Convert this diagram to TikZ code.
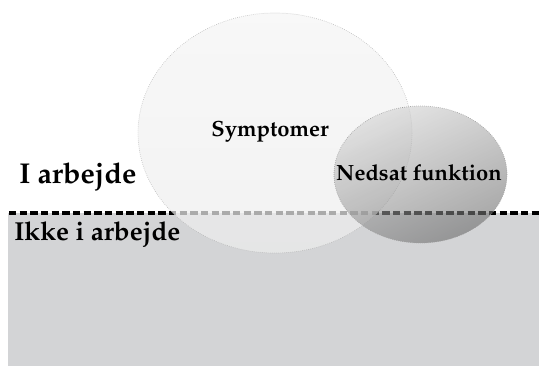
\documentclass[tikz,border=0pt]{standalone}
\usepackage[T1]{fontenc}
\usepackage{mathpazo}
\usetikzlibrary{positioning, shapes}
\begin{document}
\begin{tikzpicture}[x=0.75pt, y=-0.75pt, line width=0.5pt,
	zone/.style={font=\bfseries\fontsize{19.5}{22}\selectfont, inner sep=0pt, anchor=west},
	lbl/.style={font=\bfseries\fontsize{16.5}{18}\selectfont, inner sep=0pt}]

	\useasboundingbox (0,0) rectangle (539,366);
	% ground and border line
	\fill[fill={rgb,255:red,211;green,212;blue,214}] (8,213) rectangle (539,366);
	\draw[black, line width=2.4pt, dash pattern=on 5.5pt off 2.5pt] (9,213) -- (539,213);

	% the two circles
	\shade[top color=gray!8, bottom color=gray!14, fill opacity=0.72,
		draw=gray!60, densely dotted, draw opacity=0.8] (275,133) ellipse (137 and 120);
	\shade[top color=black!17, bottom color=black!58, shading angle=25, fill opacity=0.6,
		draw=gray!75, densely dotted] (420.5,174.5) ellipse (86.5 and 68.5);

	\node[lbl] (sym) at (270,132) {Symptomer};
	\node[lbl] (ned) at (419,173) {Nedsat funktion};
	\node[zone, font=\bfseries\fontsize{21.5}{23}\selectfont] (work) at (19,177) {I arbejde};
	\node[zone] (nowork) at (14,234) {Ikke i arbejde};
\end{tikzpicture}
\end{document}
